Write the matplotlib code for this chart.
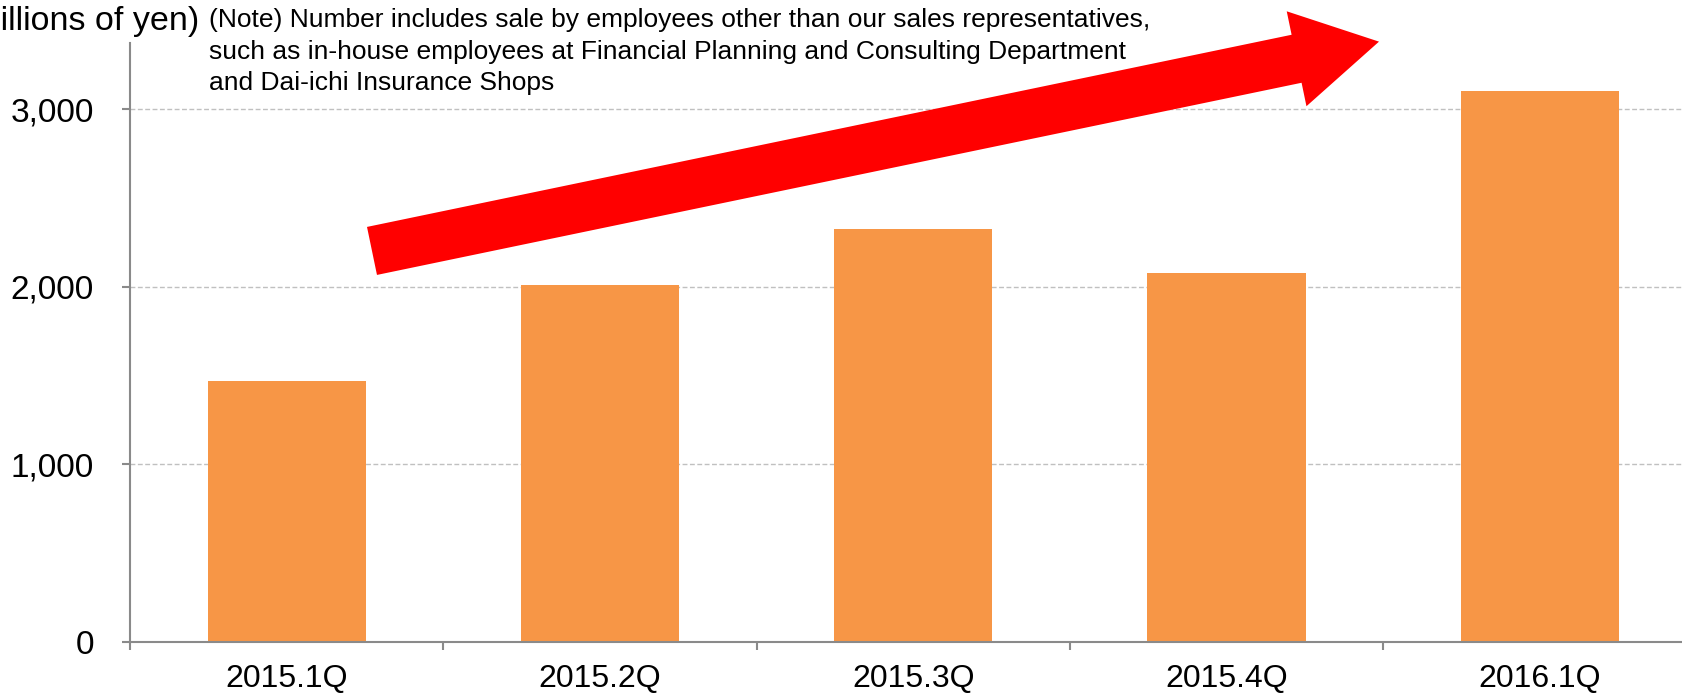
import matplotlib
matplotlib.use("Agg")
import matplotlib.pyplot as plt

plt.rcParams["font.family"] = ["Liberation Sans", "DejaVu Sans"]

# Quarterly sales (millions of yen)
quarters = ["2015.1Q", "2015.2Q", "2015.3Q", "2015.4Q", "2016.1Q"]
sales = [1470, 2011, 2327, 2079, 3106]
y_ticks = [0, 1000, 2000, 3000]
y_tick_labels = ["0", "1,000", "2,000", "3,000"]

unit_label = "(Millions of yen)"
note_text = ("(Note) Number includes sale by employees other than our sales representatives,\n"
             "such as in-house employees at Financial Planning and Consulting Department\n"
             "and Dai-ichi Insurance Shops")

W, H = 1682, 693
fig = plt.figure(figsize=(W / 100, H / 100), dpi=100)
ax = fig.add_axes([130 / W, 51 / H, 5 * 313.3 / W, (642 - 42.7) / H])

axis_grey = "#8a8a8a"
x = list(range(len(quarters)))
ax.bar(x, sales, width=0.505, color="#F79646", zorder=2)

ax.set_xlim(-0.5, len(quarters) - 0.5)
ax.set_ylim(0, 3376)
ax.set_yticks(y_ticks)
ax.set_yticklabels(y_tick_labels)
ax.set_xticks(x)
ax.set_xticklabels(quarters)
# category boundary ticks
ax.set_xticks([i - 0.5 for i in range(len(quarters) + 1)], minor=True)

ax.tick_params(axis="x", which="major", length=0, pad=16, labelsize=23)
ax.tick_params(axis="x", which="minor", length=6, width=1.5, color=axis_grey, direction="out")
ax.tick_params(axis="y", length=6, width=1.5, color=axis_grey, direction="out",
               pad=20, labelsize=24)

for side in ("top", "right"):
    ax.spines[side].set_visible(False)
for side in ("left", "bottom"):
    ax.spines[side].set_color(axis_grey)
    ax.spines[side].set_linewidth(1.5)

ax.set_axisbelow(True)
ax.yaxis.grid(True, color="#c0c0c0", linewidth=1.0, linestyle=(0, (3.5, 1.8)))

# Upward trend arrow
ax.annotate("", xy=(3.4866, 3382), xytext=(0.2724, 2203),
            xycoords="data", textcoords="data", annotation_clip=False,
            arrowprops=dict(arrowstyle="simple,head_length=6.06,head_width=6.98,tail_width=3.53",
                            mutation_scale=10, color="#FF0000", shrinkA=0, shrinkB=0,
                            linewidth=0))

fig.text(199 / W, 1 - 30 / H, unit_label, ha="right", va="baseline", fontsize=24.5)
fig.text(209 / W, 1 - 8.5 / H, note_text, ha="left", va="top", fontsize=19,
         linespacing=1.37)

fig.savefig("out.png", dpi=100)
